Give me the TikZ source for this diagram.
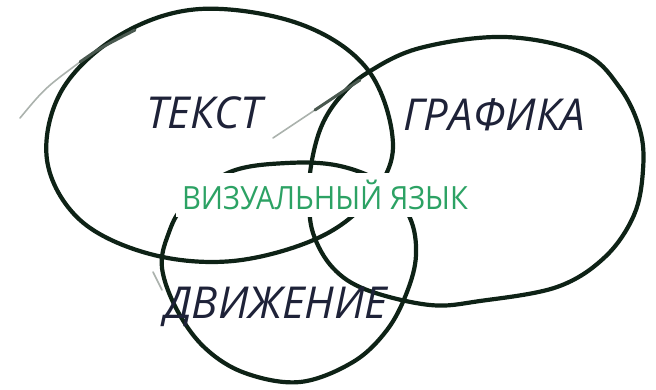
\documentclass[tikz,border=0pt]{standalone}
\usepackage{fontspec}
\setmainfont{Open Sans}
\definecolor{ink}{RGB}{14,34,22}
\definecolor{pen}{RGB}{30,34,56}
\definecolor{vgreen}{RGB}{44,162,100}
\begin{document}
\begin{tikzpicture}[x=1pt,y=-1pt,
  loop/.style={draw=ink,line width=4.2pt,line join=round},
  tail/.style={draw=ink!35,line width=1.6pt,line cap=round},
  tailb/.style={draw=ink!75,line width=3pt,line cap=round},
  label/.style={text=pen,inner sep=0pt,font=\fontsize{44}{44}\selectfont\itshape\addfontfeatures{FakeStretch=0.99}},
  centre/.style={text=vgreen,fill=white,inner xsep=6pt,inner ysep=7pt,font=\fontsize{32}{32}\selectfont\addfontfeatures{FakeStretch=0.91}}]
\useasboundingbox (0,0) rectangle (656,389);
% left ellipse (text)
\draw[loop] plot[smooth cycle,tension=0.6] coordinates {(200,9) (300,24) (368,70) (393,145) (370,198) (318,238) (233,261) (150,254) (80,220) (47,160) (62,90) (120,35)};
\draw[tail] (20,118) .. controls (45,88) .. (80,62);
\draw[tailb] (80,62) .. controls (100,48) .. (135,30);
% right ellipse (graphics)
\draw[loop] plot[smooth cycle,tension=0.6] coordinates {(367,73) (420,48) (505,37) (583,53) (620,88) (640,130) (643,170) (634,215) (605,257) (557,287) (480,301) (430,305) (367,290) (333,268) (313,233) (309,195) (312,160) (322,125) (340,97)};
\draw[tail] (273,138) -- (315,110);
\draw[tailb] (315,110) -- (360,80);
% bottom circle (motion)
\draw[loop] plot[smooth cycle,tension=0.6] coordinates {(287,163) (340,166) (385,185) (410,218) (416,255) (407,292) (387,330) (353,362) (300,382) (245,373) (205,348) (177,310) (162,268) (168,235) (185,205) (230,172)};
\draw[tail] (153,272) -- (162,290);
% labels
\node[label] (tekst) at (204,113) {ТЕКСТ};
\node[label] (grafika) at (494,115) {ГРАФИКА};
\node[label] (dvizh) at (276,307) {ДВИЖЕНИЕ};
\node[centre] (viz) at (325,195) {ВИЗУАЛЬНЫЙ ЯЗЫК};
\end{tikzpicture}
\end{document}
